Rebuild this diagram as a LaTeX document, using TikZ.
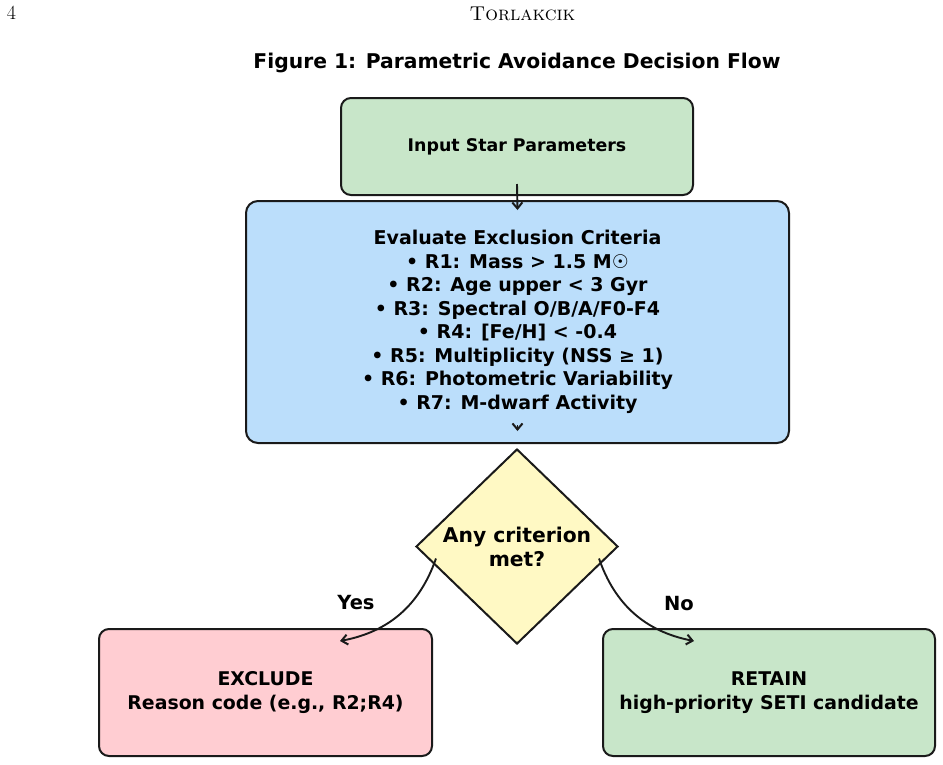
\documentclass[tikz,border=0pt]{standalone}
\usepackage{fontspec}
\newfontfamily\figfont{DejaVu Sans}
\definecolor{fcgreen}{HTML}{C8E6C9}
\definecolor{fcblue}{HTML}{BBDEFB}
\definecolor{fcpink}{HTML}{FFCDD2}
\definecolor{fcyellow}{HTML}{FFF9C4}
\definecolor{fcline}{HTML}{1A1A1A}
\usetikzlibrary{arrows.meta,positioning,shapes.geometric}

\begin{document}
\begin{tikzpicture}[x=1pt, y=-1pt,
  box/.style={draw=fcline, line width=2pt, rounded corners=10pt, inner sep=0pt, align=center, font=\figfont\bfseries\fontsize{17.4}{23}\selectfont},
  arr/.style={-{Straight Barb[length=6pt,width=10pt,line width=2pt]}, line width=1.9pt, fcline}]
  \useasboundingbox (0,0) rectangle (943,764);

  % Page header
  \node[inner sep=0pt, font=\fontsize{20}{22}\selectfont] (pg) at (11.5,13) {4};
  \node[inner sep=0pt, font=\fontsize{20}{22}\selectfont] (hd) at (522.5,13.5) {\textsc{Torlakcik}};

  % Title
  \node[inner sep=0pt, font=\figfont\bfseries\fontsize{20.3}{24}\selectfont] (ttl) at (517,63) {Figure 1: Parametric Avoidance Decision Flow};

  % Input and criteria boxes
  \node[box, fill=fcgreen, minimum width=352pt, minimum height=97pt] (inp) at (517,146.5) {Input Star Parameters};
  \node[box, fill=fcblue, rounded corners=12pt, minimum width=543pt, minimum height=242pt, font=\figfont\bfseries\fontsize{19}{23.5}\selectfont] (eval) at (517.5,322) {Evaluate Exclusion Criteria\\
    • R1: Mass > 1.5 M☉\\
    • R2: Age upper < 3 Gyr\\
    • R3: Spectral O/B/A/F0-F4\\
    • R4: [Fe/H] < -0.4\\
    • R5: Multiplicity (NSS ≥ 1)\\
    • R6: Photometric Variability\\
    • R7: M-dwarf Activity};

  % Decision
  \node[draw=fcline, line width=2pt, fill=fcyellow, shape=diamond, minimum width=202pt, minimum height=195pt, inner sep=0pt, align=center, font=\figfont\bfseries\fontsize{20.3}{24}\selectfont] (dec) at (517,546.5) {Any criterion\\met?};

  % Outcomes
  \node[box, fill=fcpink, minimum width=333pt, minimum height=127pt, font=\figfont\bfseries\fontsize{18.9}{23.5}\selectfont] (excl) at (265.5,692.5) {EXCLUDE\\Reason code (e.g., R2;R4)};
  \node[box, fill=fcgreen, minimum width=332pt, minimum height=127pt, font=\figfont\bfseries\fontsize{18.9}{23.5}\selectfont] (ret) at (769,692.5) {RETAIN\\high-priority SETI candidate};

  \draw[arr] ([yshift=12pt]inp.south) -- ([yshift=-10pt]eval.north);
  \draw[arr] ([yshift=19pt]eval.south) -- ([yshift=13pt]eval.south);
  \draw[arr] ([xshift=-81pt,yshift=-12pt]dec.center) to[bend left=30] ([xshift=74.5pt,yshift=-13pt]excl.north);
  \draw[arr] ([xshift=82pt,yshift=-12pt]dec.center) to[bend right=30] ([xshift=-75pt,yshift=-13pt]ret.north);

  % Branch labels
  \node[inner sep=0pt, font=\figfont\bfseries\fontsize{19.5}{22}\selectfont] (yes) at (356,603) {Yes};
  \node[inner sep=0pt, font=\figfont\bfseries\fontsize{19.5}{22}\selectfont] (no) at (679,604) {No};
\end{tikzpicture}
\end{document}
